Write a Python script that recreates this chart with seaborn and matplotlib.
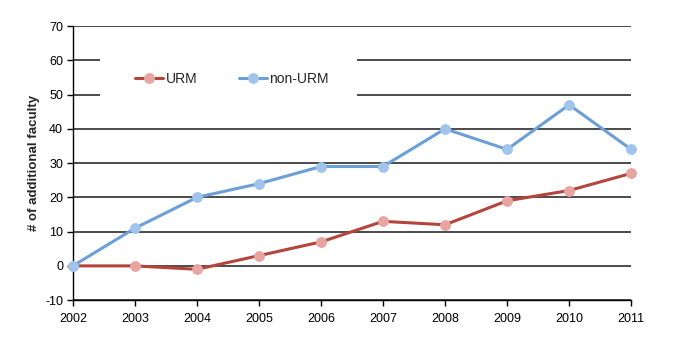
import matplotlib
matplotlib.use("Agg")
import matplotlib.pyplot as plt
from matplotlib.patches import Rectangle
import seaborn as sns
import pandas as pd

years = [2002, 2003, 2004, 2005, 2006, 2007, 2008, 2009, 2010, 2011]
urm = [0, 0, -1, 3, 7, 13, 12, 19, 22, 27]
non_urm = [0, 11, 20, 24, 29, 29, 40, 34, 47, 34]
y_ticks = [-10, 0, 10, 20, 30, 40, 50, 60, 70]

df = pd.DataFrame({"year": years, "URM": urm, "non-URM": non_urm})

sns.set_theme(style="white")
plt.rcParams["font.family"] = ["Liberation Sans", "DejaVu Sans"]
plt.rcParams["axes.unicode_minus"] = False

fig = plt.figure(figsize=(6.75, 3.47), dpi=100)
ax = fig.add_axes([0.108, 0.135, 0.827, 0.79])

styles = {
    "URM": dict(line="#b5453c", marker="#e8a4a0"),
    "non-URM": dict(line="#6b9fd7", marker="#a0c4ea"),
}
for name in ["URM", "non-URM"]:
    st = styles[name]
    sns.lineplot(data=df, x="year", y=name, ax=ax, label=name, color=st["line"],
                 linewidth=2.2, marker="o", markersize=7,
                 markerfacecolor=st["marker"], markeredgecolor=st["marker"],
                 zorder=3, clip_on=False)

ax.set_xlim(2002, 2011)
ax.set_ylim(-10, 70)
ax.set_xticks(years)
ax.set_yticks(y_ticks)
ax.tick_params(axis="both", labelsize=9, colors="black", direction="out",
               length=4, width=1, pad=3)
ax.tick_params(axis="x", bottom=True, pad=5)
ax.tick_params(axis="y", left=True)

ax.yaxis.grid(True, color="#1a1a1a", linewidth=1.1)
ax.xaxis.grid(False)
ax.set_axisbelow(True)

for side in ["top", "right"]:
    ax.spines[side].set_visible(False)
for side in ["left", "bottom"]:
    ax.spines[side].set_color("black")
    ax.spines[side].set_linewidth(1.0)

ax.set_xlabel("")
ax.set_ylabel("# of additional faculty", fontsize=9.5, fontweight="bold", labelpad=4)

# white block behind the legend that hides the gridlines there
ax.add_patch(Rectangle((0.048, 0.693), 0.461, 0.237, transform=ax.transAxes,
                       facecolor="white", edgecolor="none", zorder=1))
ax.legend(loc="center", bbox_to_anchor=(0.285, 0.807), ncol=2, frameon=False,
          fontsize=10, handlelength=2.0, handletextpad=0.2, columnspacing=3.0)

fig.savefig("out.png", dpi=100)
